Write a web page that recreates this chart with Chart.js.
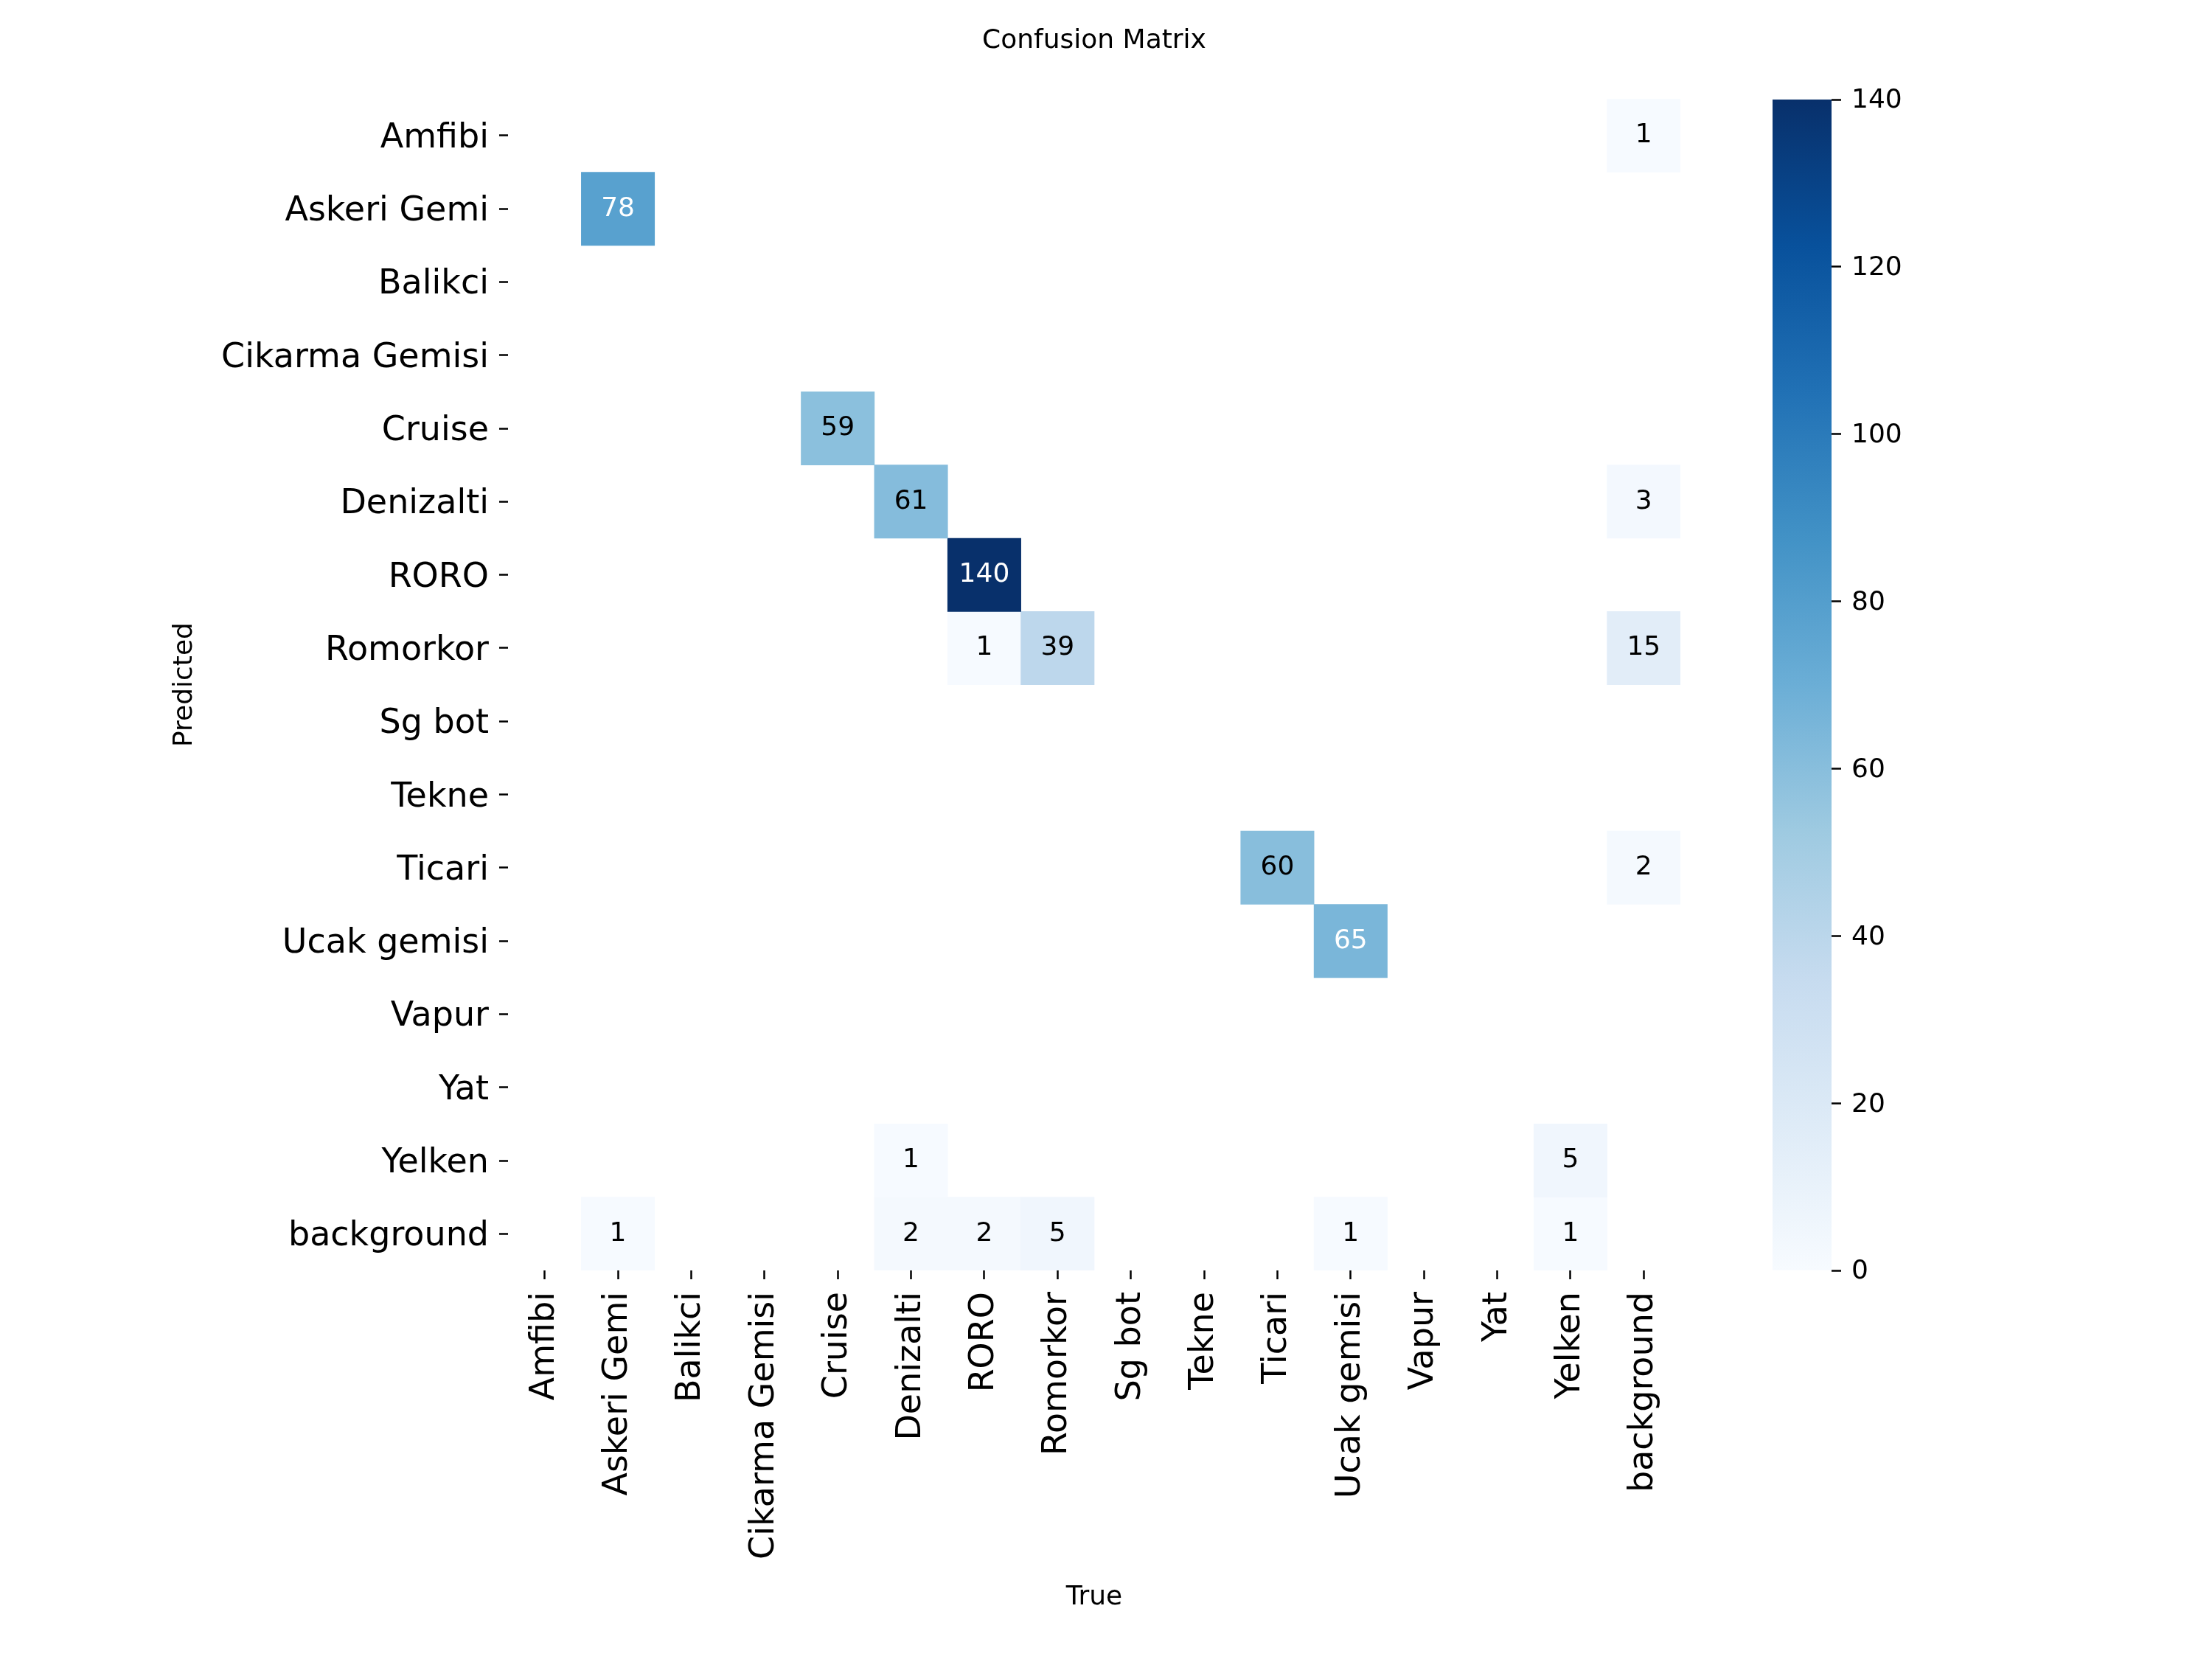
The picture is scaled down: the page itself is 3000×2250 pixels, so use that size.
<!DOCTYPE html>
<html>
<head>
<meta charset="utf-8">
<script src="https://cdn.jsdelivr.net/npm/chart.js@4.4.1/dist/chart.umd.min.js"></script>
<style>
  body { margin: 0; background: #fff; }
  #wrap { position: relative; width: 3000px; height: 2250px; }
  #matrix { position: absolute; left: 0; top: 0; }
  #cbar { position: absolute; left: 2380px; top: 0; }
</style>
</head>
<body>
<div id="wrap">
  <canvas id="matrix" width="2968" height="2250"></canvas>
  <canvas id="cbar" width="300" height="2250"></canvas>
</div>
<script>
// Class names (rows = predicted, columns = true)
const classes = ['Amfibi', 'Askeri Gemi', 'Balikci', 'Cikarma Gemisi', 'Cruise', 'Denizalti', 'RORO',
  'Romorkor', 'Sg bot', 'Tekne', 'Ticari', 'Ucak gemisi', 'Vapur', 'Yat', 'Yelken', 'background'];

// Counts, one row per predicted class
const counts = [
  [0, 0, 0, 0, 0, 0, 0, 0, 0, 0, 0, 0, 0, 0, 0, 1],    // Amfibi
  [0, 78, 0, 0, 0, 0, 0, 0, 0, 0, 0, 0, 0, 0, 0, 0],   // Askeri Gemi
  [0, 0, 0, 0, 0, 0, 0, 0, 0, 0, 0, 0, 0, 0, 0, 0],    // Balikci
  [0, 0, 0, 0, 0, 0, 0, 0, 0, 0, 0, 0, 0, 0, 0, 0],    // Cikarma Gemisi
  [0, 0, 0, 0, 59, 0, 0, 0, 0, 0, 0, 0, 0, 0, 0, 0],   // Cruise
  [0, 0, 0, 0, 0, 61, 0, 0, 0, 0, 0, 0, 0, 0, 0, 3],   // Denizalti
  [0, 0, 0, 0, 0, 0, 140, 0, 0, 0, 0, 0, 0, 0, 0, 0],  // RORO
  [0, 0, 0, 0, 0, 0, 1, 39, 0, 0, 0, 0, 0, 0, 0, 15],  // Romorkor
  [0, 0, 0, 0, 0, 0, 0, 0, 0, 0, 0, 0, 0, 0, 0, 0],    // Sg bot
  [0, 0, 0, 0, 0, 0, 0, 0, 0, 0, 0, 0, 0, 0, 0, 0],    // Tekne
  [0, 0, 0, 0, 0, 0, 0, 0, 0, 0, 60, 0, 0, 0, 0, 2],   // Ticari
  [0, 0, 0, 0, 0, 0, 0, 0, 0, 0, 0, 65, 0, 0, 0, 0],   // Ucak gemisi
  [0, 0, 0, 0, 0, 0, 0, 0, 0, 0, 0, 0, 0, 0, 0, 0],    // Vapur
  [0, 0, 0, 0, 0, 0, 0, 0, 0, 0, 0, 0, 0, 0, 0, 0],    // Yat
  [0, 0, 0, 0, 0, 1, 0, 0, 0, 0, 0, 0, 0, 0, 5, 0],    // Yelken
  [0, 1, 0, 0, 0, 2, 2, 5, 0, 0, 0, 1, 0, 0, 1, 0]     // background
];

// Colour bar scale
const vmin = 0;
const vmax = 140;
const cbarTicks = [0, 20, 40, 60, 80, 100, 120, 140];

// matplotlib "Blues"
const blues = ['#f7fbff', '#deebf7', '#c6dbef', '#9ecae1', '#6baed6', '#4292c6', '#2171b5', '#08519c', '#08306b'];

const FONT = "'DejaVu Sans', sans-serif";

function hexRgb(h) {
  return [parseInt(h.slice(1, 3), 16), parseInt(h.slice(3, 5), 16), parseInt(h.slice(5, 7), 16)];
}

function bluesRgb(t) {
  t = Math.max(0, Math.min(1, t));
  const pos = t * (blues.length - 1);
  const i = Math.min(Math.floor(pos), blues.length - 2);
  const f = pos - i;
  const a = hexRgb(blues[i]), b = hexRgb(blues[i + 1]);
  return a.map((v, k) => Math.round(v + (b[k] - v) * f));
}

function cellColor(v) {
  const c = bluesRgb((v - vmin) / (vmax - vmin));
  return `rgb(${c[0]},${c[1]},${c[2]})`;
}

// seaborn style: light text on dark cells
function textColor(v) {
  const lin = bluesRgb((v - vmin) / (vmax - vmin)).map(c => {
    c = c / 255;
    return c <= 0.03928 ? c / 12.92 : Math.pow((c + 0.055) / 1.055, 2.4);
  });
  const lum = 0.2126 * lin[0] + 0.7152 * lin[1] + 0.0722 * lin[2];
  return lum < 0.44 ? '#ffffff' : '#000000';
}

// one dataset per predicted row, floating bars [row, row+1]
const datasets = classes.map((name, r) => ({
  label: name,
  data: counts[r].map(v => v > 0 ? [r, r + 1] : null),
  backgroundColor: ctx => cellColor(counts[ctx.datasetIndex][ctx.dataIndex]),
  borderWidth: 0,
  grouped: false,
  barPercentage: 1,
  categoryPercentage: 1
}));

// cell numbers
const annotate = {
  id: 'annotate',
  afterDatasetsDraw(chart) {
    const ctx = chart.ctx;
    ctx.save();
    ctx.font = '36px ' + FONT;
    ctx.textAlign = 'center';
    ctx.textBaseline = 'middle';
    chart.data.datasets.forEach((ds, r) => {
      chart.getDatasetMeta(r).data.forEach((el, c) => {
        const v = counts[r][c];
        if (!v) return;
        ctx.fillStyle = textColor(v);
        ctx.fillText(String(v), el.x, (el.y + el.base) / 2);
      });
    });
    ctx.restore();
  }
};

new Chart(document.getElementById('matrix'), {
  type: 'bar',
  data: { labels: classes, datasets },
  plugins: [annotate],
  options: {
    responsive: false,
    devicePixelRatio: 1,
    animation: false,
    layout: { padding: { left: 0, top: 0, right: 689, bottom: 0 } },
    plugins: {
      legend: { display: false },
      tooltip: { enabled: false },
      title: {
        display: true,
        fullSize: false,
        text: 'Confusion Matrix',
        color: '#000',
        font: { family: FONT, size: 36, weight: 'normal' },
        padding: { top: 34, bottom: 57 }
      }
    },
    scales: {
      x: {
        type: 'category',
        offset: true,
        border: { display: false },
        grid: { offset: false, drawOnChartArea: false, tickLength: 12, tickWidth: 2.5, tickColor: '#000' },
        ticks: { color: '#000', font: { family: FONT, size: 46 }, padding: 17, minRotation: 90, maxRotation: 90, autoSkip: false },
        title: { display: true, text: 'True', color: '#000', font: { family: FONT, size: 36 }, padding: { top: 0, bottom: 62 } },
        afterFit(s) { s.height = 527; }
      },
      y: {
        type: 'linear',
        min: 0,
        max: classes.length,
        reverse: true,
        border: { display: false },
        grid: { drawOnChartArea: false, tickLength: 12, tickWidth: 2.5, tickColor: '#000' },
        afterBuildTicks(s) { s.ticks = classes.map((_, i) => ({ value: i + 0.5 })); },
        ticks: {
          color: '#000',
          font: { family: FONT, size: 46 },
          padding: 14,
          labelOffset: 4,
          callback: (value, index) => classes[index]
        },
        title: { display: true, text: 'Predicted', color: '#000', font: { family: FONT, size: 36 }, padding: { top: 229, bottom: 0 } },
        afterFit(s) { s.width = 689; }
      }
    }
  }
});

// colour bar
new Chart(document.getElementById('cbar'), {
  type: 'bar',
  data: {
    labels: [''],
    datasets: [{
      data: [[vmin, vmax]],
      borderWidth: 0,
      barPercentage: 1,
      categoryPercentage: 1,
      backgroundColor(ctx) {
        const chart = ctx.chart;
        if (!chart.chartArea) return blues[4];
        const y = chart.scales.y;
        const g = chart.ctx.createLinearGradient(0, y.getPixelForValue(vmin), 0, y.getPixelForValue(vmax));
        blues.forEach((c, i) => g.addColorStop(i / (blues.length - 1), c));
        return g;
      }
    }]
  },
  options: {
    responsive: false,
    devicePixelRatio: 1,
    animation: false,
    layout: { padding: { left: 24, top: 135, right: 0, bottom: 527 } },
    plugins: { legend: { display: false }, tooltip: { enabled: false } },
    scales: {
      x: { display: false },
      y: {
        position: 'right',
        min: vmin,
        max: vmax,
        border: { display: false },
        grid: { drawOnChartArea: false, tickLength: 13, tickWidth: 2.5, tickColor: '#000' },
        afterBuildTicks(s) { s.ticks = cbarTicks.map(v => ({ value: v })); },
        ticks: { color: '#000', font: { family: FONT, size: 36 }, padding: 14, labelOffset: 2 },
        afterFit(s) { s.width = 196; }
      }
    }
  }
});
</script>
</body>
</html>
